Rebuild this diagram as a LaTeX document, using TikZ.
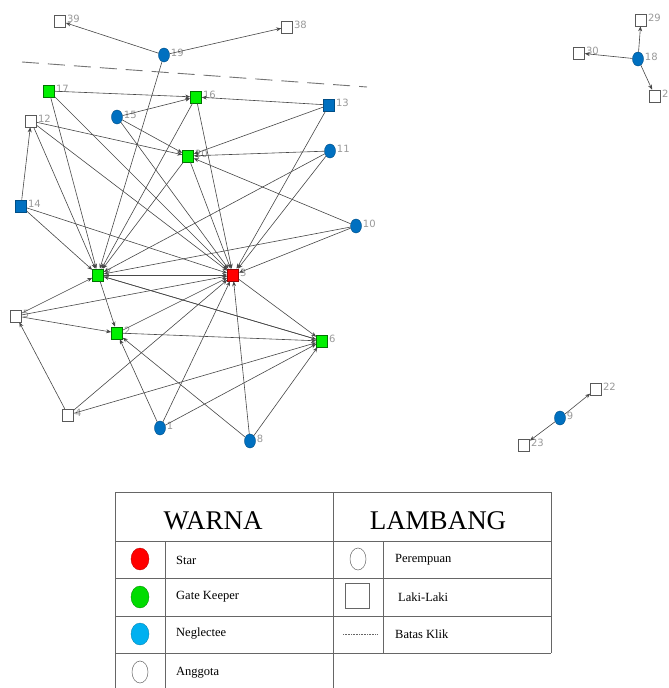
\documentclass[tikz,border=0pt]{standalone}
\usepackage{fontspec}
\setmainfont{Liberation Serif}
\newfontfamily\lblfont{DejaVu Sans}
\usetikzlibrary{shapes.geometric,arrows.meta}
\definecolor{nblue}{RGB}{0,112,192}
\definecolor{ngreen}{RGB}{0,240,0}
\definecolor{nred}{RGB}{255,0,0}
\definecolor{lblue}{RGB}{0,176,240}
\definecolor{lgreen}{RGB}{0,220,0}
\begin{document}
\begin{tikzpicture}[x=1pt,y=-1pt,
  sq/.style={draw=black!65, rectangle, minimum width=11pt, minimum height=12pt, inner sep=0pt, line width=0.6pt, fill=white},
  gsq/.style={sq, fill=ngreen, draw=green!45!black},
  bsq/.style={sq, fill=nblue, draw=nblue!70!black},
  rsq/.style={sq, fill=nred, draw=red!60!black},
  circ/.style={ellipse, minimum width=11pt, minimum height=14pt, inner sep=0pt, draw=nblue!70!black, fill=nblue, line width=0.4pt},
  lbl/.style={font=\lblfont\fontsize{10}{10}\selectfont, text=black!40, inner sep=1pt, yshift=2pt},
  con/.style={draw=black!72, line width=0.6pt, -{Stealth[length=5pt,width=4pt]}},
  tline/.style={draw=black!60, line width=0.8pt},
  ltxt/.style={font=\fontsize{12.5}{13}\selectfont, anchor=west, inner sep=0pt},
  htxt/.style={font=\fontsize{27}{28}\selectfont, inner sep=0pt}
]
\useasboundingbox (0,0) rectangle (669,688);

% clique boundary
\coordinate (da) at (22,62);
\coordinate (db) at (367,87);
\draw[draw=black!55, line width=0.9pt, dash pattern=on 17pt off 9pt] (da) -- (db);

% nodes
\node[sq, label={[lbl]east:39}] (n39) at (60,21) {};
\node[sq, label={[lbl]east:38}] (n38) at (287,27) {};
\node[circ, label={[lbl]east:19}] (n19) at (164,55) {};
\node[gsq, label={[lbl]east:17}] (n17) at (49,91) {};
\node[gsq, label={[lbl]east:16}] (n16) at (196,97) {};
\node[bsq, label={[lbl]east:13}] (n13) at (329,105) {};
\node[circ, label={[lbl]east:15}] (n15) at (117,117) {};
\node[sq, label={[lbl]east:12}] (n12) at (31,121) {};
\node[gsq, label={[lbl]east:20}] (n20) at (188,156) {};
\node[circ, label={[lbl]east:11}] (n11) at (330,151) {};
\node[bsq, label={[lbl]east:14}] (n14) at (21,206) {};
\node[circ, label={[lbl]east:10}] (n10) at (356,226) {};
\node[gsq, label={[lbl]east:7}] (n7) at (98,275) {};
\node[rsq, label={[lbl]east:3}] (n3) at (233,275) {};
\node[sq, label={[lbl]east:5}] (n5) at (16,316) {};
\node[gsq, label={[lbl]east:2}] (n2) at (117,333) {};
\node[gsq, label={[lbl]east:6}] (n6) at (322,341) {};
\node[sq, label={[lbl]east:4}] (n4) at (68,415) {};
\node[circ, label={[lbl]east:1}] (n1) at (160,428) {};
\node[circ, label={[lbl]east:8}] (n8) at (250,441) {};
\node[sq, label={[lbl]east:29}] (n29) at (641,20) {};
\node[sq, label={[lbl]east:30}] (n30) at (579,53) {};
\node[circ, label={[lbl]east:18}] (n18) at (638,59) {};
\node[sq, label={[lbl]east:26}] (n26) at (655,96) {};
\node[sq, label={[lbl]east:22}] (n22) at (596,389) {};
\node[circ, label={[lbl]east:9}] (n9) at (560,418) {};
\node[sq, label={[lbl]east:23}] (n23) at (524,445) {};

% connectors
\foreach \a/\b in {19/39,19/38,19/7,
  17/16,17/7,17/3,
  15/16,15/20,15/3,
  12/20,12/7,12/3,
  14/12,14/7,14/3,
  16/7,16/3,
  13/16,13/20,13/3,
  11/20,11/7,11/3,
  10/20,10/7,10/3,
  20/7,20/3,
  7/3,7/2,7/6,6/7,
  5/7,5/3,5/2,
  2/6,2/3,
  4/5,4/3,4/6,
  1/2,1/3,1/6,
  8/2,8/3,8/6,
  3/6,
  18/29,18/30,18/26,
  9/22,9/23}
  \draw[con] (n\a) -- (n\b);

% legend table
\draw[tline] (115,492) -- (551,492);
\draw[tline] (115,541) -- (551,541);
\draw[tline] (115,578) -- (551,578);
\draw[tline] (115,616) -- (551,616);
\draw[tline] (115,653) -- (551,653);
\draw[tline] (115,492) -- (115,688);
\draw[tline] (165,541) -- (165,688);
\draw[tline] (333,492) -- (333,688);
\draw[tline] (383,541) -- (383,653);
\draw[tline] (551,492) -- (551,653);

\node[htxt] (warna) at (213,521) {WARNA};
\node[htxt] (lambang) at (438,521) {LAMBANG};

\node[ellipse, minimum width=18pt, minimum height=22pt, inner sep=0pt, fill=nred, draw=red!70!black, line width=0.3pt] (kstar) at (140,559) {};
\node[ellipse, minimum width=18pt, minimum height=22pt, inner sep=0pt, fill=lgreen, draw=green!50!black, line width=0.3pt] (kgate) at (140,597) {};
\node[ellipse, minimum width=18pt, minimum height=22pt, inner sep=0pt, fill=lblue, draw=lblue!70!black, line width=0.3pt] (kneg) at (140,634) {};
\node[ellipse, minimum width=16pt, minimum height=22pt, inner sep=0pt, fill=white, draw=black!60, line width=0.5pt] (kang) at (140,672) {};

\node[ltxt] (tstar) at (176,560) {Star};
\node[ltxt] (tgate) at (176,597) {Gate Keeper};
\node[ltxt] (tneg) at (176,634) {Neglectee};
\node[ltxt] (tang) at (176,673) {Anggota};

\node[ellipse, minimum width=16pt, minimum height=22pt, inner sep=0pt, fill=white, draw=black!60, line width=0.5pt] (kper) at (358,559) {};
\node[rectangle, minimum width=24pt, minimum height=25pt, inner sep=0pt, fill=white, draw=black!60, line width=0.5pt] (klaki) at (357,596) {};
\coordinate (ba) at (343,634);
\coordinate (bb) at (377,634);
\draw[draw=black!60, line width=0.4pt, dash pattern=on 1pt off 0.6pt] (ba) -- (bb);

\node[ltxt] (tper) at (395,560) {Perempuan};
\node[ltxt] (tlaki) at (398,597) {Laki-Laki};
\node[ltxt] (tbatas) at (395,634) {Batas Klik};
\end{tikzpicture}
\end{document}
